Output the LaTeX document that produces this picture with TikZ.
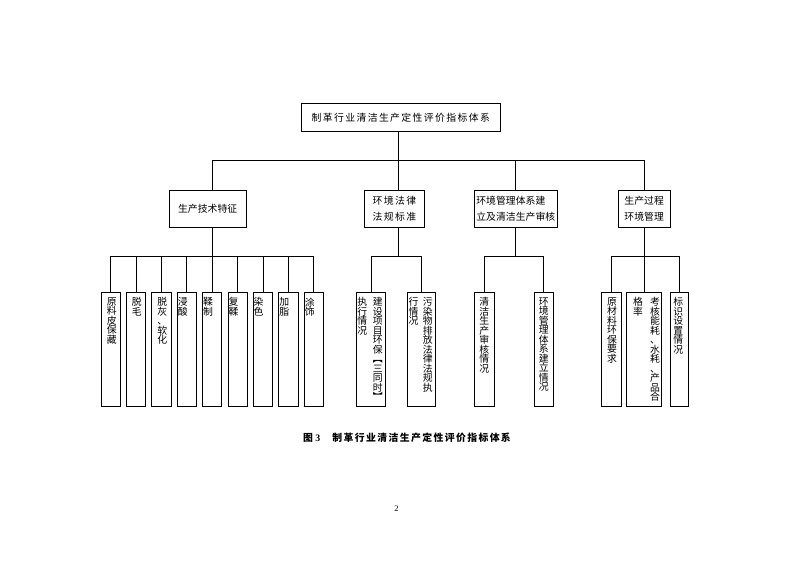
\documentclass[tikz,border=0pt]{standalone}
\usepackage{fontspec}
\setmainfont{Liberation Serif}
\newfontfamily\cjk{Noto Sans CJK SC}
\newfontfamily\cjkwide[LetterSpace=14]{Noto Sans CJK SC}
\usetikzlibrary{calc}
\newdimen\px
\px=1.0654pt
\tikzset{box/.style={draw, inner sep=0, align=center, font=\cjk\fontsize{10.5}{16.3}\selectfont}}
\tikzset{leaf/.style={draw, inner sep=0, minimum width=19.3\px, minimum height=114\px}}
\tikzset{vtxt/.style={inner sep=0, align=center, font=\cjk\fontsize{10.5}{10.1}\selectfont}}

\begin{document}
\begin{tikzpicture}[x=1.0654pt, y=-1.0654pt, line width=0.7pt]
  \useasboundingbox (0, 0) rectangle (793, 561);
  \coordinate (bus) at (0, 160.7);
  \coordinate (sub) at (0, 256.7);
  \coordinate (mid) at (398.5, 0);

  \node[box, font=\cjkwide\fontsize{10.5}{12}\selectfont, minimum width=198.3\px, minimum height=28.4\px] at (400.8, 117.5) (root) {制革行业清洁生产定性评价指标体系};

  \begin{scope}[every node/.append style={minimum height=37.3\px}]
    \node[box, minimum width=76.7\px] at (207.7, 208.7) (tech) {生产技术特征};
    \node[box, font=\cjkwide\fontsize{10.5}{16.3}\selectfont, minimum width=60\px] at (394.5, 208.7) (law) {环境法律\\法规标准};
    \node[box, align=left, minimum width=83\px] at (515.8, 208.7) (ems) {环境管理体系建\\立及清洁生产审核};
    \node[box, minimum width=51.7\px] at (644.2, 208.7) (proc) {生产过程\\环境管理};
  \end{scope}

  % leaves of the first branch
  \foreach \t/\a/\s [count=\i] in {{原\\料\\皮\\保\\藏}/north/1.3, {脱\\毛}/north/0.8, {脱\\灰\\、\\软\\化}/north/1,
      {浸\\酸}/north west/0.8, {鞣\\制}/north west/0.6, {复\\鞣}/north west/0.8, {染\\色}/north west/0.4,
      {加\\脂}/north west/0.8, {涂\\饰}/north west/0.8} {
    \node[leaf] at (110.5+25.4*\i-25.4, 349.7) (t\i) {};
    \node[vtxt, anchor=\a] at ($(t\i.\a)+(\s, 5)$) (txt\i) {\t};
  }

  \node[leaf, minimum width=29.3\px] at (371, 349.7) (law1) {};
  \node[vtxt, anchor=north east] at ($(law1.north east)+(-3, 5)$) (law1r) {建\\设\\项\\目\\环\\保\\︻\\三\\同\\时\\︼};
  \node[vtxt, anchor=north west] at ($(law1.north west)+(1, 5)$) (law1l) {执\\行\\情\\况};
  \node[leaf, minimum width=27.6\px] at (421.5, 349.7) (law2) {};
  \node[vtxt, anchor=north east] at ($(law2.north east)+(-2.6, 5)$) (law2r) {污\\染\\物\\排\\放\\法\\律\\法\\规\\执};
  \node[vtxt, anchor=north west] at ($(law2.north west)+(1, 5)$) (law2l) {行\\情\\况};

  \node[leaf, minimum width=19.7\px] at (484.2, 349.7) (ems1) {};
  \node[vtxt, anchor=north] at ($(ems1.north)+(0, 5)$) (ems1t) {清\\洁\\生\\产\\审\\核\\情\\况};
  \node[leaf] at (543.7, 349.7) (ems2) {};
  \node[vtxt, anchor=north] at ($(ems2.north)+(0, 5)$) (ems2t) {环\\境\\管\\理\\体\\系\\建\\立\\情\\况};

  \node[leaf] at (611.3, 349.7) (proc1) {};
  \node[vtxt, anchor=north] at ($(proc1.north)+(0.8, 5)$) (proc1t) {原\\材\\料\\环\\保\\要\\求};
  \node[leaf, minimum width=35\px] at (644.2, 349.7) (proc2) {};
  \node[vtxt, anchor=north east] at ($(proc2.north east)+(-1.7, 5)$) (proc2r) {考\\核\\能\\耗\\、\\水\\耗\\、\\产\\品\\合};
  \node[vtxt, anchor=north west] at ($(proc2.north west)+(6.5, 5)$) (proc2l) {格\\率};
  \node[leaf, minimum width=18.3\px] at (679.2, 349.7) (proc3) {};
  \node[vtxt, anchor=north] at ($(proc3.north)+(-0.8, 5)$) (proc3t) {标\\识\\设\\置\\情\\况};

  % upper level
  \draw (root.south -| mid) -- (mid |- bus);
  \draw (tech.north -| t5.north) |- (proc.north |- bus) -- (proc.north);
  \draw (law.north -| mid) -- (mid |- bus);
  \draw (ems.north) -- (ems.north |- bus);

  % lower level
  \draw (tech.south -| t5.north) -- (t5.north);
  \draw (t1.north) |- (t9.north |- sub) -- (t9.north);
  \foreach \i in {2, 3, 4, 6, 7, 8} {
    \draw (t\i.north) -- (t\i.north |- sub);
  }
  \draw (law.south -| mid) -- (mid |- sub);
  \draw (law1.north) |- (law2.north |- sub) -- (law2.north);
  \draw (ems.south) -- (ems.south |- sub);
  \draw (ems1.north) |- (ems2.north |- sub) -- (ems2.north);
  \draw (proc.south) -- (proc2.north);
  \draw (proc1.north) |- (proc3.north |- sub) -- (proc3.north);

  \node[anchor=west, inner sep=0, font=\fontsize{10.5}{12}\selectfont] at (302.7, 438) (caption)
    {{\cjkwide\bfseries 图} {\bfseries 3}\hspace{13pt}{\cjkwide\bfseries 制革行业清洁生产定性评价指标体系}};
  \node[inner sep=0, font=\fontsize{9}{10}\selectfont] at (396.5, 509) (page) {2};
\end{tikzpicture}
\end{document}
